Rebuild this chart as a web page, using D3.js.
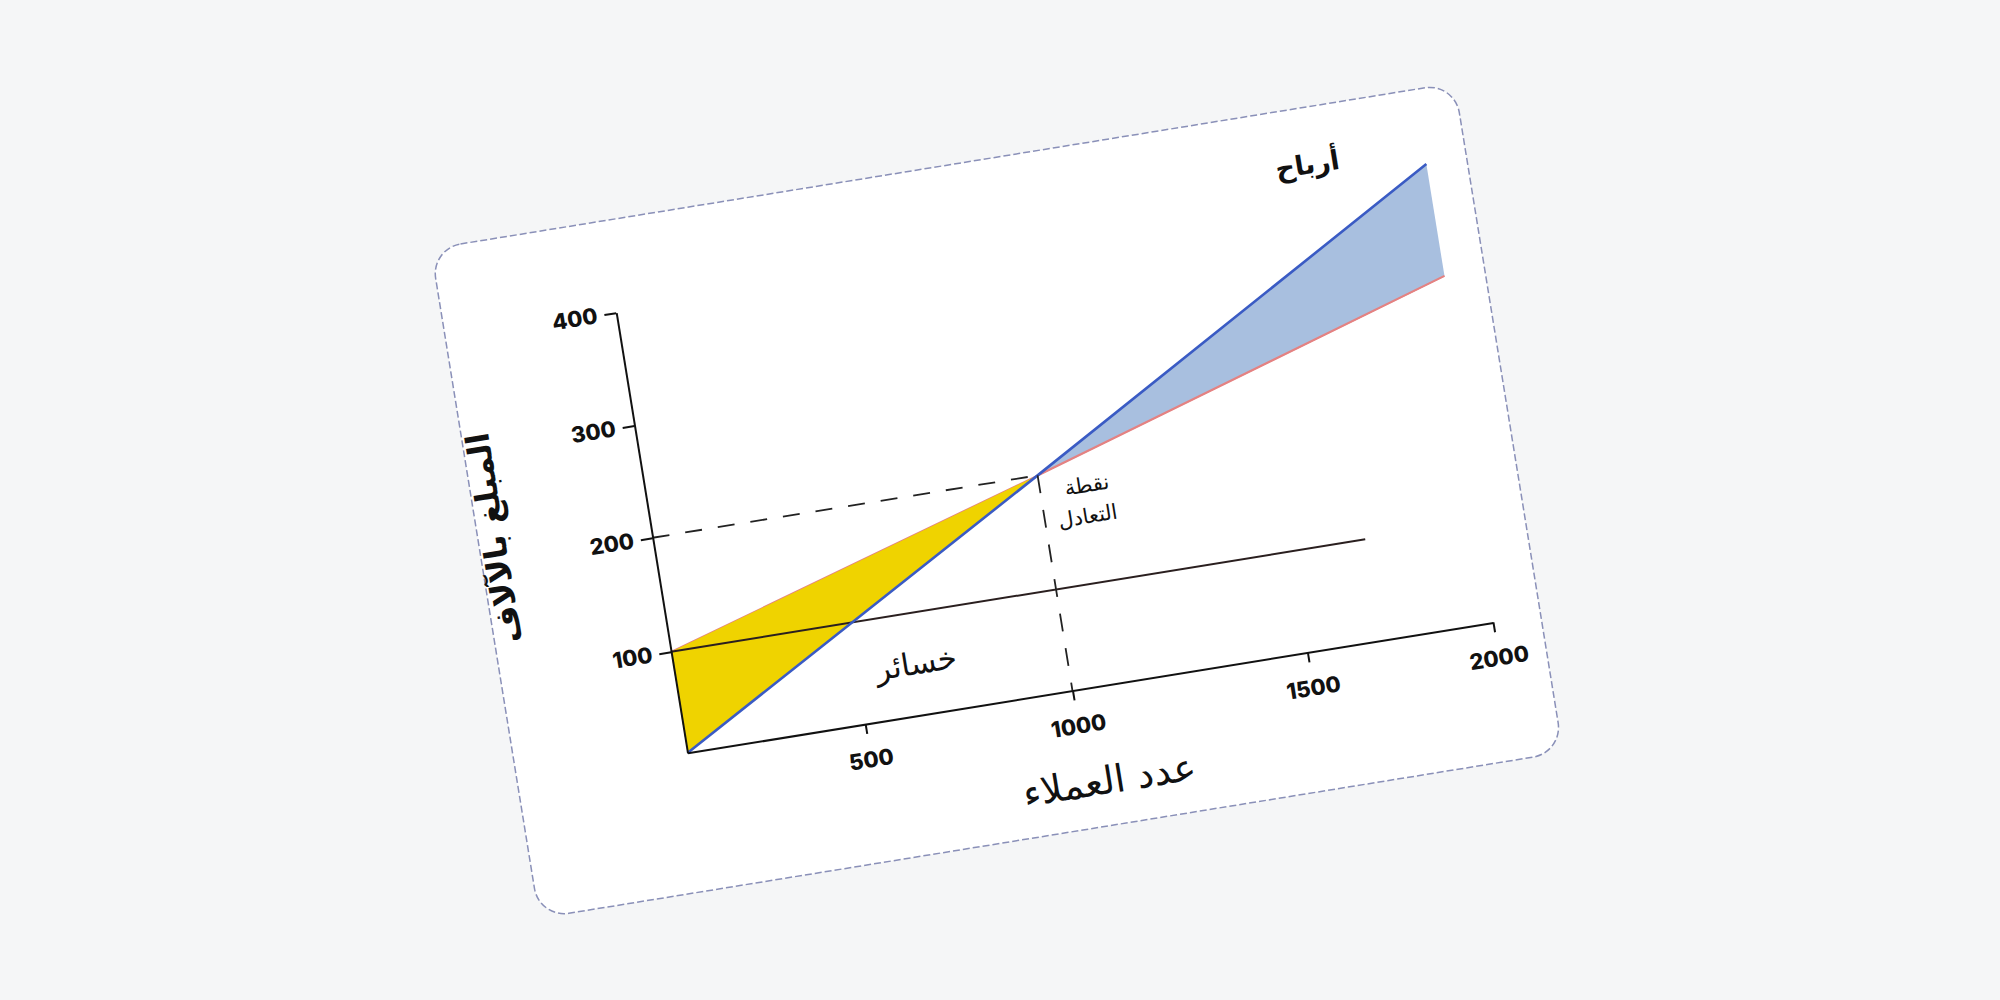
<!DOCTYPE html>
<html><head><meta charset="utf-8">
<script src="https://cdn.jsdelivr.net/npm/d3@7"></script>
<style>html,body{margin:0;padding:0;background:#f5f6f7;} svg{display:block}</style>
</head><body><svg id="c" width="2000" height="1000"></svg>
<script>
// ---- data ----
const xTicks = [500, 1000, 1500, 2000];
const yTicks = [100, 200, 300, 400];
const revenue   = [{x:0, y:0},   {x:1000, y:200}, {x:2020, y:415}];
const totalCost = [{x:0, y:100}, {x:1000, y:200}, {x:2020, y:316}];
const fixedCost = [{x:0, y:100}, {x:1700, y:100}];
const breakEven = {x:1000, y:200};
const xTitle = "عدد العملاء";
const yTitle = "المبلغ بالآلاف";
const profitLabel = "أرباح";
const lossLabel = "خسائر";
const beLabel = ["نقطة", "التعادل"];

// ---- layout ----
const svg = d3.select("#c");
svg.append("rect").attr("width",2000).attr("height",1000).attr("fill","#f5f6f7");
const card = svg.append("g").attr("transform","translate(996.4,500.6) rotate(-9.2)");
card.append("rect").attr("x",-518).attr("y",-339).attr("width",1037).attr("height",678)
  .attr("rx",30).attr("fill","#ffffff").attr("stroke","#8a90b8").attr("stroke-width",1.5)
  .attr("stroke-dasharray","7,3");

const g = card.append("g").attr("transform","translate(-345.3,199.7)");

const x = d3.scaleLinear().domain([0].concat(xTicks)).range([0,180,390,628,816]);
const y = d3.scaleLinear().domain([0].concat(yTicks)).range([0,-102.5,-218,-331.6,-446]);

const line = d3.line().x(d=>x(d.x)).y(d=>y(d.y));
const beIdx = 1;

// red line (under fills)
g.append("path").attr("d", line(totalCost)).attr("fill","none")
  .attr("stroke","#e48282").attr("stroke-width",1.6);

// loss area (yellow)
const lossPoly = [revenue[0], totalCost[0], breakEven];
g.append("path").attr("d", line(lossPoly) + "Z").attr("fill","#efd300");
// profit area (blue)
const profitPoly = [breakEven, revenue[2], totalCost[2]];
g.append("path").attr("d", line(profitPoly) + "Z").attr("fill","#a8bfdf");

// red line on top after break-even
g.append("path").attr("d", line(totalCost.slice(beIdx))).attr("fill","none")
  .attr("stroke","#e48282").attr("stroke-width",2.2);

// fixed cost
g.append("path").attr("d", line(fixedCost)).attr("fill","none")
  .attr("stroke","#2a1f1f").attr("stroke-width",2);

// revenue line
g.append("path").attr("d", line(revenue)).attr("fill","none")
  .attr("stroke","#3a5bc4").attr("stroke-width",2.6);

// dashed guides
g.append("path").attr("d", line([{x:0,y:breakEven.y}, breakEven])).attr("fill","none")
  .attr("stroke","#222").attr("stroke-width",1.8).attr("stroke-dasharray","17,16");
g.append("path").attr("d", line([breakEven, {x:breakEven.x,y:0}])).attr("fill","none")
  .attr("stroke","#222").attr("stroke-width",1.8).attr("stroke-dasharray","18,17");

// axes
const numFont = "Inter, Lato, sans-serif";
const fmt = d3.format("d");
const xa = g.append("g").call(d3.axisBottom(x).tickValues(xTicks).tickFormat(fmt).tickSize(10).tickPadding(18).tickSizeOuter(0));
const ya = g.append("g").call(d3.axisLeft(y).tickValues(yTicks).tickFormat(fmt).tickSize(12).tickPadding(7).tickSizeOuter(0));
[xa, ya].forEach(a => {
  a.attr("font-family", numFont).attr("font-size", 22);
  a.select(".domain").attr("stroke","#111").attr("stroke-width",2);
  a.selectAll(".tick line").attr("stroke","#111").attr("stroke-width",2);
  a.selectAll(".tick text").attr("fill","#111").attr("font-weight",800);
});

// texts
const arFont = "'DejaVu Sans', 'Noto Sans', sans-serif";
function txt(str, tx, ty, size, weight, rot) {
  return g.append("text").attr("transform", `translate(${tx},${ty})` + (rot ? ` rotate(${rot})` : ""))
    .attr("text-anchor","middle").attr("dy","0.35em")
    .attr("font-family", arFont).attr("font-size", size).attr("font-weight", weight)
    .attr("fill","#111").text(str);
}
txt(profitLabel, 706, -482, 27, 600);
txt(beLabel[0], 437, -201, 21, 400);
txt(beLabel[1], 433, -170, 21, 400);
txt(lossLabel, 240, -52, 31, 500);
txt(xTitle, 412, 94, 38, 500);
txt(yTitle, -157, -243, 32, 700, -90);
</script>
</body></html>
